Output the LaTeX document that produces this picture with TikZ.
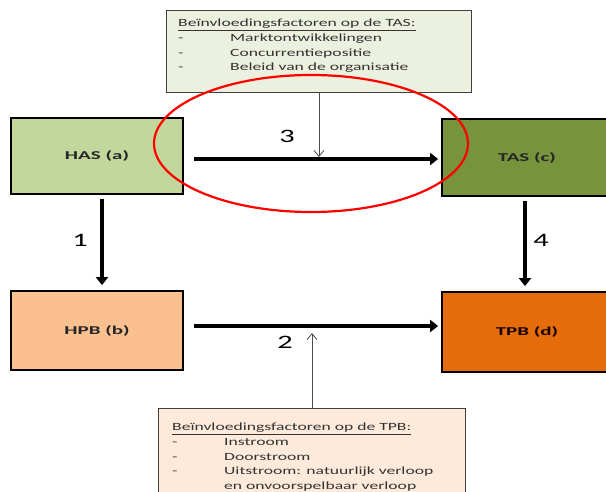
\documentclass[tikz,border=0pt]{standalone}
\usepackage{fontspec}
\setmainfont{Carlito}
\newfontfamily\rekfont[FakeStretch=1.6]{Carlito}
\newfontfamily\blokfont[FakeStretch=1.75]{Carlito}
\usetikzlibrary{arrows.meta}

\definecolor{hascol}{HTML}{C3D69B}
\definecolor{tascol}{HTML}{77933C}
\definecolor{hpbcol}{HTML}{FAC090}
\definecolor{tpbcol}{HTML}{E46C0A}
\definecolor{tasfac}{HTML}{EBF1DE}
\definecolor{tpbfac}{HTML}{FDEADA}

\tikzset{
  blok/.style={draw=black, line width=1.8pt, minimum width=172pt, minimum height=76pt,
    inner sep=0pt, text=black!85, font=\blokfont\bfseries\fontsize{12}{14}\selectfont},
  factor/.style={draw=black!75, line width=1.2pt, inner sep=0pt, anchor=north west},
  factortekst/.style={anchor=north west, align=left, inner sep=0pt, text=black!80,
    font=\rekfont\fontsize{11}{14.6}\selectfont},
  dikpijl/.style={line width=4.5pt, -{Triangle[length=8pt,width=12pt]}},
  dunpijl/.style={line width=0.8pt, draw=black!70, -{Straight Barb[length=6pt,width=10pt]}},
  nummer/.style={font=\rekfont\fontsize{19}{19}\selectfont}
}
\newcommand{\streep}{\makebox[52pt][l]{-}}

\begin{document}
\begin{tikzpicture}[x=1pt,y=-1pt]
  \useasboundingbox (0,0) rectangle (606,491);
  % factor boxes
  \node[factor, fill=tasfac, minimum width=305pt, minimum height=82pt] (tasf) at (166,10) {};
  \node[factortekst] (tast) at (178,19) {\underline{Beïnvloedingsfactoren op de TAS:}\\
    \streep Marktontwikkelingen\\
    \streep Concurrentiepositie\\
    \streep Beleid van de organisatie};
  \node[factor, fill=tpbfac, minimum width=307pt, minimum height=90pt] (tpbf) at (158,408) {};
  \node[factortekst] (tpbt) at (172,423) {\underline{Beïnvloedingsfactoren op de TPB:}\\
    \streep Instroom\\
    \streep Doorstroom\\
    \streep Uitstroom: natuurlijk verloop\\
    \makebox[52pt]{}en onvoorspelbaar verloop};
  % main boxes
  \node[blok, fill=hascol] (has) at (97,156) {HAS (a)};
  \node[blok, fill=tascol, minimum width=170pt, minimum height=77pt] (tas) at (527,157.5) {TAS (c)};
  \node[blok, fill=hpbcol, minimum height=79pt] (hpb) at (97,330.5) {HPB (b)};
  \node[blok, fill=tpbcol, minimum width=170pt, minimum height=80pt, text=black!90!red] (tpb) at (527,332) {TPB (d)};
  % arrows
  \draw[dikpijl, shorten <=10pt, shorten >=3pt] ([yshift=-3pt]has.east) -- ([yshift=-3pt]has.east -| tas.west);
  \draw[dikpijl, shorten <=10pt, shorten >=3pt] ([yshift=4.5pt]hpb.east) -- ([yshift=4.5pt]hpb.east -| tpb.west);
  \draw[dikpijl, shorten <=4pt, shorten >=5pt] ([xshift=5pt]has.south) -- ([xshift=5pt]hpb.north);
  \draw[dikpijl, shorten <=4pt, shorten >=5pt] ([xshift=-2pt]tas.south) -- ([xshift=-2pt]tpb.north);
  \coordinate (m3) at (319,157);
  \coordinate (m2) at (312,333);
  \draw[dunpijl] (tasf.south -| m3) -- (m3);
  \draw[dunpijl] (tpbf.north -| m2) -- (m2);
  % numbers
  \node[nummer] (n3) at (287,136) {3};
  \node[nummer] (n2) at (285,342) {2};
  \node[nummer] (n1) at (80,240) {1};
  \node[nummer] (n4) at (541,240) {4};
  % red circle
  \draw[red, line width=2.2pt] (311,143.5) ellipse [x radius=157pt, y radius=68.5pt];
\end{tikzpicture}
\end{document}
